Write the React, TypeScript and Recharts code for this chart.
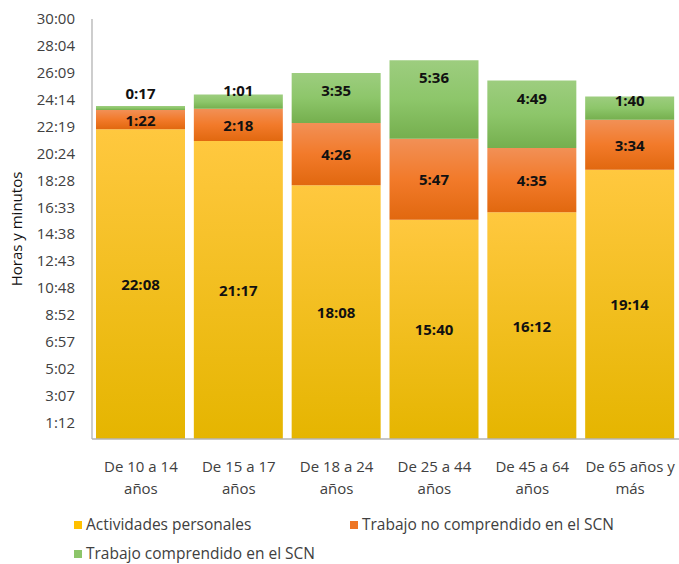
import React from 'react';
import { BarChart, Bar, XAxis, YAxis, LabelList } from 'recharts';

const CATEGORIES = [
  'De 10 a 14\naños',
  'De 15 a 17\naños',
  'De 18 a 24\naños',
  'De 25 a 44\naños',
  'De 45 a 64\naños',
  'De 65 años y\nmás',
];
const PERSONALES = ['22:08', '21:17', '18:08', '15:40', '16:12', '19:14'];
const NO_SCN = ['1:22', '2:18', '4:26', '5:47', '4:35', '3:34'];
const SCN = ['0:17', '1:01', '3:35', '5:36', '4:49', '1:40'];
const Y_TICKS = [
  '1:12', '3:07', '5:02', '6:57', '8:52', '10:48', '12:43', '14:38',
  '16:33', '18:28', '20:24', '22:19', '24:14', '26:09', '28:04', '30:00',
];

const FONT = '"Open Sans", "Liberation Sans", Arial, sans-serif';

const toMin = (s: string) => {
  const [h, m] = s.split(':').map(Number);
  return h * 60 + m;
};
const fmt = (v: number) => {
  const t = Math.round(v);
  const h = Math.floor(t / 60);
  const m = t % 60;
  return `${h}:${m < 10 ? '0' : ''}${m}`;
};

const data = CATEGORIES.map((name, i) => ({
  name,
  personales: toMin(PERSONALES[i]),
  noScn: toMin(NO_SCN[i]),
  scn: toMin(SCN[i]),
}));

const SERIES = [
  { key: 'personales', label: 'Actividades personales', color: '#FFC000' },
  { key: 'noScn', label: 'Trabajo no comprendido en el SCN', color: '#EE7524' },
  { key: 'scn', label: 'Trabajo comprendido en el SCN', color: '#8CC56A' },
];

const centerLabel = (props: any) => {
  const { x, y, width, height, value } = props;
  return (
    <text x={x + width / 2} y={y + height / 2} textAnchor="middle" dominantBaseline="central"
      fontFamily={FONT} fontSize={15} fontWeight={700} fill="#111">
      {fmt(Number(value))}
    </text>
  );
};

// green labels sit near the top of the segment, or above it when the segment is thin
const topLabel = (props: any) => {
  const { x, y, width, height, value } = props;
  let cy = y + 17;
  if (height < 10) cy = y - 13;
  else if (height < 18) cy = y - 5;
  else if (height < 40) cy = y + 4;
  return (
    <text x={x + width / 2} y={cy} textAnchor="middle" dominantBaseline="central"
      fontFamily={FONT} fontSize={15} fontWeight={700} fill="#111">
      {fmt(Number(value))}
    </text>
  );
};

const CategoryTick = (props: any) => {
  const { x, y, payload } = props;
  const lines = String(payload.value).split('\n');
  return (
    <g>
      {lines.map((l, i) => (
        <text key={i} x={x} y={y + 31 + i * 22} textAnchor="middle"
          fontFamily={FONT} fontSize={15} fill="#404040">
          {l}
        </text>
      ))}
    </g>
  );
};

const LegendBox = () => {
  const pos = [
    { left: 74, top: 516 },
    { left: 350, top: 516 },
    { left: 74, top: 545 },
  ];
  return (
    <div style={{ position: 'absolute', left: 0, top: 0, width: 679, height: 564, pointerEvents: 'none' }}>
      {SERIES.map((s, i) => (
        <div key={s.key} style={{
          position: 'absolute', left: pos[i].left, top: pos[i].top,
          display: 'flex', alignItems: 'center', fontFamily: FONT, fontSize: 15.5,
          color: '#404040', whiteSpace: 'nowrap', lineHeight: '17px',
        }}>
          <span style={{ width: 8, height: 8, background: s.color, marginRight: 4, display: 'inline-block' }} />
          {s.label}
        </div>
      ))}
    </div>
  );
};

export default function App() {
  return (
    <div style={{ position: 'relative', width: 679, height: 564, background: '#fff', overflow: 'hidden' }}>
      <style>{'body{margin:0}'}</style>
      <BarChart width={679} height={564} data={data}
        margin={{ top: 19, right: 0, left: 0, bottom: 95 }}>
        <defs>
          <linearGradient id="gYellow" x1="0" y1="0" x2="0" y2="1">
            <stop offset="0%" stopColor="#FFC83F" />
            <stop offset="100%" stopColor="#E5B500" />
          </linearGradient>
          <linearGradient id="gOrange" x1="0" y1="0" x2="0" y2="1">
            <stop offset="0%" stopColor="#F29056" />
            <stop offset="50%" stopColor="#F27A2A" />
            <stop offset="100%" stopColor="#E1680F" />
          </linearGradient>
          <linearGradient id="gGreen" x1="0" y1="0" x2="0" y2="1">
            <stop offset="0%" stopColor="#9DCD7F" />
            <stop offset="50%" stopColor="#8DC66A" />
            <stop offset="100%" stopColor="#75AF4E" />
          </linearGradient>
        </defs>
        <XAxis dataKey="name" tick={<CategoryTick />} tickLine={false} tickSize={0} height={30}
          axisLine={{ stroke: '#B3B3B3', strokeWidth: 1.3 }} interval={0} />
        <YAxis type="number" domain={[0, 1800]} ticks={Y_TICKS.map(toMin)} tickFormatter={fmt}
          width={92} tickLine={false} tickSize={0} tickMargin={17}
          axisLine={{ stroke: '#B3B3B3', strokeWidth: 1.3 }}
          tick={{ fontFamily: FONT, fontSize: 15, fill: '#404040' }}
          label={{ value: 'Horas y minutos', angle: -90, position: 'insideLeft', offset: 17,
            style: { fontFamily: FONT, fontSize: 15, fill: '#111', textAnchor: 'middle' } }} />
        <Bar dataKey="personales" stackId="a" fill="url(#gYellow)" barSize={89} isAnimationActive={false}>
          <LabelList dataKey="personales" content={centerLabel} />
        </Bar>
        <Bar dataKey="noScn" stackId="a" fill="url(#gOrange)" barSize={89} isAnimationActive={false}>
          <LabelList dataKey="noScn" content={centerLabel} />
        </Bar>
        <Bar dataKey="scn" stackId="a" fill="url(#gGreen)" barSize={89} isAnimationActive={false}>
          <LabelList dataKey="scn" content={topLabel} />
        </Bar>
      </BarChart>
      <LegendBox />
    </div>
  );
}
